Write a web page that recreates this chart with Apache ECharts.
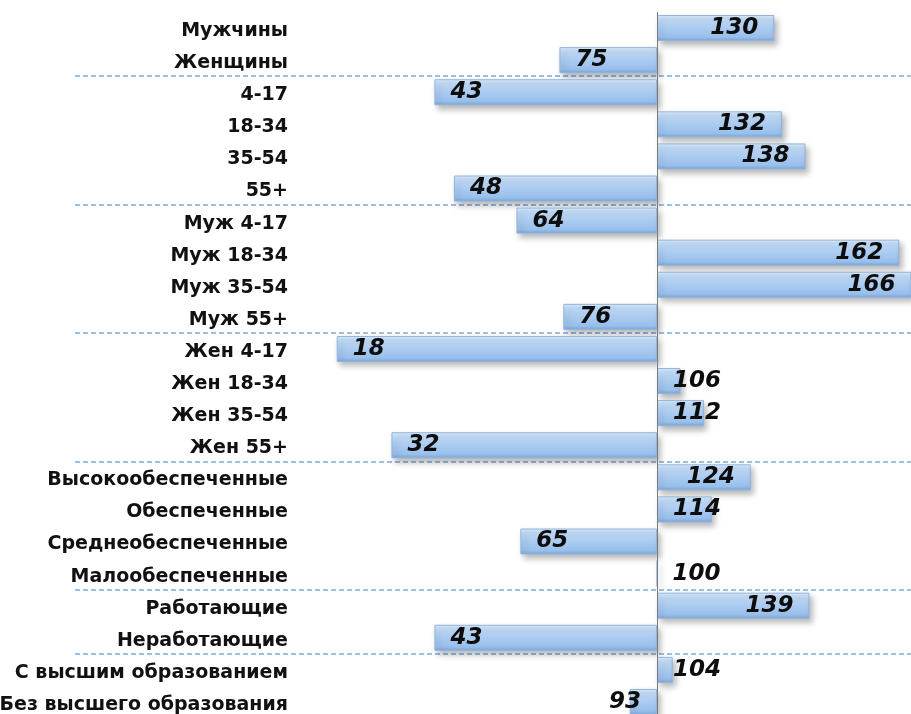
<!DOCTYPE html>
<html>
<head>
<meta charset="utf-8">
<script src="https://cdn.jsdelivr.net/npm/echarts@6/dist/echarts.min.js"></script>
<style>
html,body{margin:0;padding:0;background:#fff;}
#chart{width:911px;height:714px;}
</style>
</head>
<body>
<div id="chart"></div>
<script>
// ---- data ----
const categories = [
  'Мужчины', 'Женщины',
  '4-17', '18-34', '35-54', '55+',
  'Муж 4-17', 'Муж 18-34', 'Муж 35-54', 'Муж 55+',
  'Жен 4-17', 'Жен 18-34', 'Жен 35-54', 'Жен 55+',
  'Высокообеспеченные', 'Обеспеченные', 'Среднеобеспеченные', 'Малообеспеченные',
  'Работающие', 'Неработающие',
  'С высшим образованием', 'Без высшего образования'
];
const values = [130, 75, 43, 132, 138, 48, 64, 162, 166, 76, 18, 106, 112, 32, 124, 114, 65, 100, 139, 43, 104, 93];
const baseline = 100;
// indices of categories that start a new group (dashed separator above them)
const groupStarts = [2, 6, 10, 14, 18, 20];

// ---- build ----
const labelFont = {
  fontFamily: 'DejaVu Sans',
  fontWeight: 'bold',
  fontStyle: 'italic',
  fontSize: 23,
  color: '#0d0d0d'
};
const barData = values.map(function (v) {
  const d = v - baseline;
  let pos;
  if (d >= 0) pos = d > 17 ? 'insideRight' : 'insideLeft';
  else pos = d < -17 ? 'insideLeft' : 'insideRight';
  return {
    value: d,
    label: { position: pos, distance: 16 }
  };
});
const sepColors = groupStarts.map(function () { return '#7ea9dc'; }).concat(['rgba(0,0,0,0)']);

const chart = echarts.init(document.getElementById('chart'), null, { renderer: 'canvas' });
chart.setOption({
  animation: false,
  backgroundColor: '#ffffff',
  grid: { left: 75, right: 0, top: 12, height: 706, containLabel: false, outerBoundsMode: 'none' },
  xAxis: {
    type: 'value',
    min: -149,
    max: 65,
    show: false
  },
  yAxis: {
    type: 'category',
    inverse: true,
    data: categories,
    axisLine: { show: false },
    axisTick: { show: false },
    axisLabel: {
      margin: -213,
      formatter: function (v) { return '{c|' + v + '}'; },
      rich: {
        c: {
          fontFamily: 'DejaVu Sans',
          fontWeight: 'bold',
          fontSize: 19,
          color: '#111111',
          padding: [6, 0, 0, 0]
        }
      }
    },
    splitLine: {
      show: true,
      interval: function (index) { return groupStarts.indexOf(index) >= 0; },
      lineStyle: { color: sepColors, width: 1.5, type: [5, 3] }
    }
  },
  series: [{
    type: 'bar',
    data: barData,
    barWidth: 26,
    itemStyle: {
      color: new echarts.graphic.LinearGradient(0, 0, 0, 1, [
        { offset: 0, color: '#e2effc' },
        { offset: 0.12, color: '#c6def7' },
        { offset: 0.5, color: '#abcbf1' },
        { offset: 0.85, color: '#98bfea' },
        { offset: 1, color: '#7aa6da' }
      ]),
      borderColor: '#8fb3de',
      borderWidth: 1,
      shadowColor: 'rgba(0,0,0,0.28)',
      shadowBlur: 6,
      shadowOffsetX: 3,
      shadowOffsetY: 4
    },
    label: Object.assign({
      show: true,
      formatter: function (p) { return values[p.dataIndex]; }
    }, labelFont),
    markLine: {
      silent: true,
      symbol: 'none',
      label: { show: false },
      lineStyle: { color: '#7a7a7a', width: 1, type: 'solid' },
      data: [{ xAxis: 0 }]
    }
  }]
});
</script>
</body>
</html>
